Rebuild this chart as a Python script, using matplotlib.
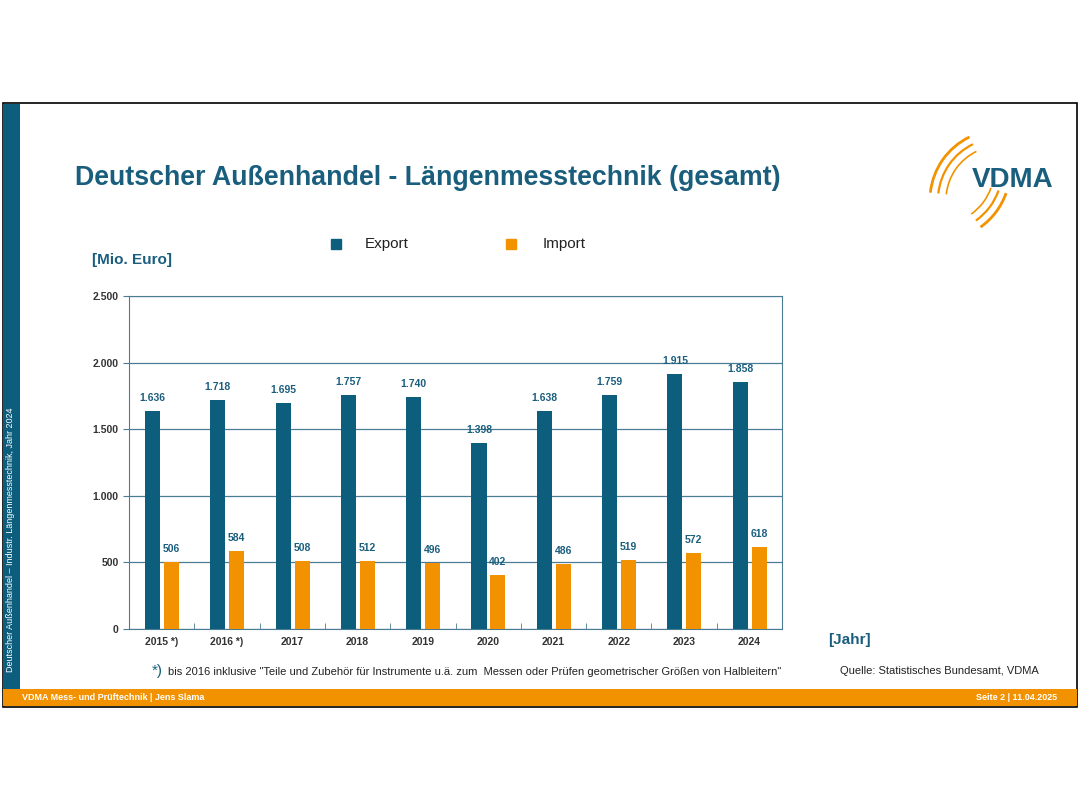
import matplotlib.pyplot as plt
from matplotlib.patches import Rectangle, Arc
import numpy as np

# Daten
years = ["2015 *)", "2016 *)", "2017", "2018", "2019", "2020", "2021", "2022", "2023", "2024"]
export_vals = [1636, 1718, 1695, 1757, 1740, 1398, 1638, 1759, 1915, 1858]
import_vals = [506, 584, 508, 512, 496, 402, 486, 519, 572, 618]
y_ticks = [0, 500, 1000, 1500, 2000, 2500]
y_labels = ["0", "500", "1.000", "1.500", "2.000", "2.500"]

BLUE = "#0D5E7D"
ORANGE = "#F39200"
TITLE = "#1A5E7E"
W, H = 1080, 810

plt.rcParams["font.family"] = "Liberation Sans"
fig = plt.figure(figsize=(10.8, 8.1), dpi=100)

def fx(x): return x / W
def fy(y): return 1 - y / H

# Rahmen, Seitenbalken, Fußzeile
fig.patches.append(Rectangle((fx(3), fy(707)), fx(1074), (707 - 103) / H, transform=fig.transFigure,
                             fill=False, edgecolor="black", lw=1.2))
fig.patches.append(Rectangle((fx(3), fy(689)), fx(17), (689 - 104) / H, transform=fig.transFigure,
                             color=BLUE, lw=0))
fig.patches.append(Rectangle((fx(3), fy(706)), fx(1074), 17 / H, transform=fig.transFigure,
                             color=ORANGE, lw=0))
fig.text(fx(11), fy(540), "Deutscher Außenhandel – Industr. Längenmesstechnik, Jahr 2024", rotation=90,
         color="white", fontsize=6.5, ha="center", va="center")
fig.text(fx(22), fy(698), "VDMA Mess- und Prüftechnik | Jens Slama", color="white", fontsize=6.5,
         fontweight="bold", va="center")
fig.text(fx(1057), fy(698), "Seite 2 | 11.04.2025", color="white", fontsize=6.5,
         fontweight="bold", va="center", ha="right")

# Titel
fig.text(fx(75), fy(178), "Deutscher Außenhandel - Längenmesstechnik (gesamt)", color=TITLE,
         fontsize=19.3, fontweight="bold", va="center")

# Logo (Bögen + Schriftzug)
for i, r in enumerate([70, 62, 54]):
    fig.patches.append(Arc((fx(1000), fy(200)), 2 * r / W, 2 * r / H, theta1=110, theta2=172,
                           transform=fig.transFigure, color=ORANGE, lw=2.0 - 0.4 * i))
    fig.patches.append(Arc((fx(940), fy(170)), 2 * r / W, 2 * r / H, theta1=-62, theta2=-25,
                           transform=fig.transFigure, color=ORANGE, lw=2.0 - 0.4 * i))
fig.text(fx(1013), fy(180), "VDMA", color=TITLE, fontsize=20, fontweight="bold", ha="center", va="center")

# Legende
fig.patches.append(Rectangle((fx(331), fy(249)), 10 / W, 10 / H, transform=fig.transFigure, color=BLUE))
fig.text(fx(365), fy(244), "Export", fontsize=11, color="#222222", va="center")
fig.patches.append(Rectangle((fx(506), fy(249)), 10 / W, 10 / H, transform=fig.transFigure, color=ORANGE))
fig.text(fx(543), fy(244), "Import", fontsize=11, color="#222222", va="center")

fig.text(fx(92), fy(260), "[Mio. Euro]", fontsize=11, fontweight="bold", color=TITLE, va="center")
fig.text(fx(828), fy(640), "[Jahr]", fontsize=11, fontweight="bold", color=TITLE, va="center")

# Diagramm
ax = fig.add_axes([fx(129), fy(629), 653 / W, 333 / H])
x = np.arange(len(years))
bw = 0.23
ax.bar(x - 0.14, export_vals, bw, color=BLUE, zorder=3)
ax.bar(x + 0.15, import_vals, bw, color=ORANGE, zorder=3)
for xi, v in zip(x, export_vals):
    ax.text(xi - 0.14, v + 60, f"{v / 1000:.3f}", ha="center", va="bottom",
            fontsize=7.5, fontweight="bold", color=TITLE)
for xi, v in zip(x, import_vals):
    ax.text(xi + 0.15, v + 60, str(v), ha="center", va="bottom",
            fontsize=7.5, fontweight="bold", color=TITLE)
ax.set_xlim(-0.5, len(years) - 0.5)
ax.set_ylim(0, 2500)
ax.set_yticks(y_ticks)
ax.set_yticklabels(y_labels)
ax.set_xticks(x)
ax.set_xticklabels(years)
ax.set_xticks(np.arange(-0.5, len(years), 1), minor=True)
ax.tick_params(axis="x", which="major", length=0, pad=6)
ax.tick_params(axis="x", which="minor", length=4, color="#4a7d94", direction="in")
ax.tick_params(axis="y", length=4, color="#4a7d94", direction="out")
for lab in ax.get_xticklabels() + ax.get_yticklabels():
    lab.set_fontsize(7.5)
    lab.set_fontweight("bold")
    lab.set_color("#333333")
ax.grid(axis="y", color="#4a7d94", lw=0.9, zorder=0)
for s in ax.spines.values():
    s.set_color("#4a7d94")

fig.text(fx(152), fy(671), "*)", fontsize=11, color=TITLE, va="center")
fig.text(fx(168), fy(672), 'bis 2016 inklusive "Teile und Zubehör für Instrumente u.ä. zum  Messen oder Prüfen geometrischer Größen von Halbleitern"',
         fontsize=8, color="#222222", va="center")
fig.text(fx(840), fy(671), "Quelle: Statistisches Bundesamt, VDMA", fontsize=8, color="#222222", va="center")

fig.savefig("out.png", dpi=100, facecolor="white")
